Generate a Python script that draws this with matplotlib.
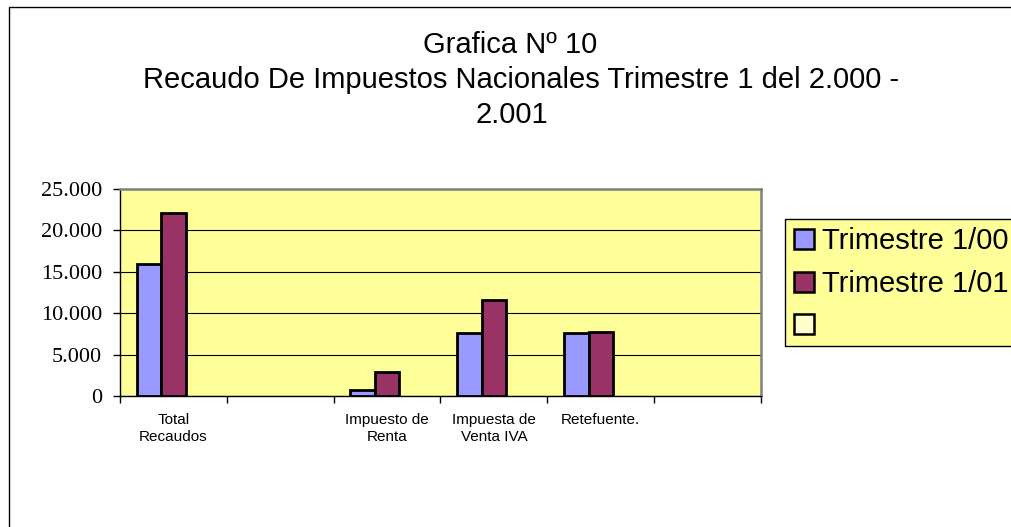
import matplotlib
matplotlib.use("Agg")
import matplotlib.pyplot as plt
from matplotlib.patches import Rectangle, Patch
from matplotlib.ticker import FuncFormatter, FixedLocator
import numpy as np

# data (nan = no bar in that slot)
categories = ["Total\nRecaudos", "", "Impuesto de\nRenta", "Impuesta de\nVenta IVA", "Retefuente.", ""]
trim_00 = [16000, np.nan, 700, 7600, 7600, np.nan]
trim_01 = [22100, np.nan, 2850, 11600, 7700, np.nan]
series_names = ["Trimestre 1/00", "Trimestre 1/01", " "]
series_colors = ["#9999FF", "#993366", "#FFFFCC"]
title_lines = ["Grafica Nº 10",
               "Recaudo De Impuestos Nacionales Trimestre 1 del 2.000 -",
               "2.001"]

W, H = 1012, 527
fig = plt.figure(figsize=(W / 100, H / 100), dpi=100)

# outer chart border (only left and top edges are inside the picture)
fig.add_artist(Rectangle((9 / W, -0.2), 1.5, 1.2 - 7 / H, transform=fig.transFigure,
                         fill=False, edgecolor="black", linewidth=1.0))

ax = fig.add_axes([120 / W, 1 - 396 / H, (761 - 120) / W, (396 - 189) / H])
ax.set_facecolor("#FFFF99")

x = np.arange(len(categories))
bw = 0.229
ax.bar(x - bw, trim_00, width=bw, color=series_colors[0], edgecolor="black", linewidth=2.0, zorder=3)
ax.bar(x, trim_01, width=bw, color=series_colors[1], edgecolor="black", linewidth=2.0, zorder=3)

ax.set_xlim(-0.5, len(categories) - 0.5)
ax.set_ylim(0, 25000)
ax.set_yticks(np.arange(0, 25001, 5000))
ax.yaxis.set_major_formatter(FuncFormatter(lambda v, p: f"{int(v):,}".replace(",", ".")))
ax.yaxis.grid(True, color="black", linewidth=0.8, zorder=0)
ax.set_axisbelow(True)

ax.xaxis.set_major_locator(FixedLocator(np.arange(-0.5, len(categories), 1.0)))
ax.xaxis.set_minor_locator(FixedLocator(x))
ax.set_xticklabels([], minor=False)
ax.set_xticklabels(categories, minor=True, fontsize=11, family="Liberation Sans", linespacing=1.3)
ax.tick_params(axis="x", which="major", direction="out", length=5, width=1, color="black")
ax.tick_params(axis="x", which="minor", length=0, pad=12)
ax.tick_params(axis="y", direction="out", length=5, width=1, pad=8)
for lbl in ax.get_yticklabels():
    lbl.set_family("Liberation Serif")
    lbl.set_fontsize(16)

for s in ["top", "right"]:
    ax.spines[s].set_color("#808080")
    ax.spines[s].set_linewidth(1.8)
for s in ["left", "bottom"]:
    ax.spines[s].set_color("black")
    ax.spines[s].set_linewidth(1.0)

# title
title_x = [510, 521, 512]
for i, line in enumerate(title_lines):
    fig.text(title_x[i] / W, 1 - (45 + 35 * i) / H, line, ha="center", va="center",
             fontsize=21, family="Liberation Sans")

# legend box runs past the right edge of the picture
fig.add_artist(Rectangle((785 / W, 1 - 346 / H), 0.5, (346 - 219) / H, transform=fig.transFigure,
                         facecolor="#FFFF99", edgecolor="black", linewidth=1.0))
handles = [Patch(facecolor=c, edgecolor="black", linewidth=1.8) for c in series_colors]
fig.legend(handles, series_names, loc="center left", bbox_to_anchor=(785 / W, 1 - 284 / H),
           frameon=False, borderaxespad=0, borderpad=0.3,
           prop={"family": "Liberation Sans", "size": 21},
           handlelength=0.68, handleheight=0.68, handletextpad=0.3, labelspacing=0.5)

fig.savefig("out.png", dpi=100)
